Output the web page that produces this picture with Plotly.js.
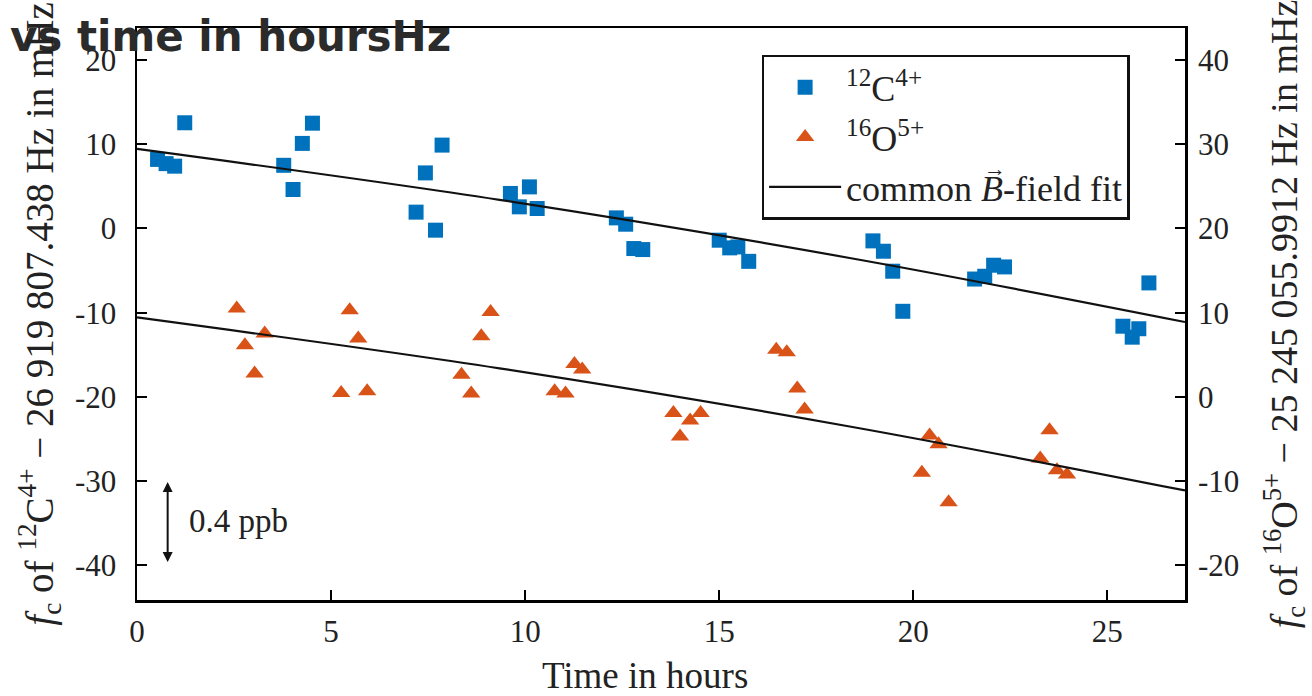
<!DOCTYPE html>
<html>
<head>
<meta charset="utf-8">
<script src="https://cdn.plot.ly/plotly-3.0.1.min.js"></script>
<style>html,body{margin:0;padding:0;background:#fff;}#chart{width:1312px;height:696px;}</style>
</head>
<body>
<div id="chart"></div>
<script>
// 12C4+ measurements (left axis, mHz)
var timeC = [0.53, 0.75, 0.97, 1.23, 3.78, 4.02, 4.26, 4.52, 7.19, 7.43, 7.69, 7.86,
             9.62, 9.85, 10.11, 10.31, 12.35, 12.59, 12.80, 13.03, 15.00, 15.27, 15.48, 15.76,
             18.96, 19.23, 19.47, 19.73, 21.58, 21.84, 22.07, 22.35, 25.40, 25.64, 25.81, 26.07];
var valueC = [8.2, 7.7, 7.4, 12.55, 7.5, 4.63, 10.1, 12.5, 1.94, 6.6, -0.2, 9.9,
              4.16, 2.57, 4.94, 2.37, 1.26, 0.51, -2.38, -2.5, -1.39, -2.3, -2.19, -3.9,
              -1.47, -2.7, -5.07, -9.83, -6.0, -5.67, -4.36, -4.56, -11.6, -12.9, -11.9, -6.46];
// 16O5+ measurements (right axis, mHz)
var timeO = [2.57, 2.78, 3.03, 3.29, 5.26, 5.48, 5.70, 5.93, 8.36, 8.61, 8.87, 9.11,
             10.76, 11.04, 11.27, 11.47, 13.82, 13.99, 14.25, 14.52, 16.47, 16.74, 17.01, 17.20,
             20.22, 20.42, 20.65, 20.91, 23.27, 23.51, 23.70, 23.96];
var valueO = [10.5, 6.13, 2.8, 7.53, 0.47, 10.3, 6.93, 0.67, 2.65, 0.4, 7.2, 10.1,
              0.67, 0.4, 3.9, 3.25, -1.9, -4.7, -2.8, -1.9, 5.6, 5.3, 1.0, -1.5,
              -9.0, -4.56, -5.6, -12.5, -7.3, -3.96, -8.7, -9.2];
// common B-field fit (same curve in each axis' units)
var fitTime = [0, 9.34, 18.36, 27];
var fitValue = [9.45, 3.4, -3.5, -11.1];
// ticks
var xTicks = [0, 5, 10, 15, 20, 25];
var xTickText = ['0', '5', '10', '15', '20', '25'];
var yTicks = [-40, -30, -20, -10, 0, 10, 20];
var yTickText = ['-40', '-30', '-20', '-10', '0', '10', '20'];
var y2Ticks = [-20, -10, 0, 10, 20, 30, 40];
var y2TickText = ['-20', '-10', '0', '10', '20', '30', '40'];
// 0.4 ppb scale arrow
var ppbArrowTime = [0.79];
var ppbArrowRange = [-29.9, -39.6];

var serif = 'Liberation Serif';
var blue = '#0072BD', orange = '#D95319';

var traces = [
  {x: timeC, y: valueC, type: 'scatter', mode: 'markers', name: '<sup>12</sup>C<sup>4+</sup>',
   marker: {symbol: 'square', size: 15, color: blue}, yaxis: 'y'},
  {x: timeO, y: valueO, type: 'scatter', mode: 'markers', name: '<sup>16</sup>O<sup>5+</sup>',
   marker: {symbol: 'triangle-up', size: 16, color: orange}, yaxis: 'y2'},
  {x: fitTime, y: fitValue, type: 'scatter', mode: 'lines',
   name: 'common <i>B</i>-field fit',
   line: {color: '#111', width: 2.2, shape: 'spline'}, yaxis: 'y'},
  {x: fitTime, y: fitValue, type: 'scatter', mode: 'lines', showlegend: false,
   line: {color: '#111', width: 2.2, shape: 'spline'}, yaxis: 'y2'}
];

var yRange = [-44.1, 23.8];
var layout = {
  width: 1312, height: 696,
  paper_bgcolor: '#fff', plot_bgcolor: '#fff',
  margin: {l: 137, r: 127, t: 28, b: 96},
  showlegend: true,
  title: {text: 'vs time in hoursHz', font: {family: 'DejaVu Sans', size: 42, color: '#2b2b2b', weight: 'bold'},
          x: 0.0076, xanchor: 'left', xref: 'container', y: 0.969, yanchor: 'top', yref: 'container'},
  xaxis: {range: [0, 27], tickvals: xTicks, ticktext: xTickText, ticks: 'inside', ticklen: 10, tickwidth: 2,
          tickcolor: '#000', showline: true, linecolor: '#000', linewidth: 2.5, mirror: true, showgrid: false,
          zeroline: false, ticklabelstandoff: 2,
          tickfont: {family: serif, size: 31, color: '#222'}},
  yaxis: {range: yRange, tickvals: yTicks, ticktext: yTickText, ticks: 'inside', ticklen: 10, tickwidth: 2,
          tickcolor: '#000', showline: true, linecolor: '#000', linewidth: 2.5, mirror: true, showgrid: false,
          zeroline: false, ticklabelstandoff: 12,
          tickfont: {family: serif, size: 31, color: '#222'},
          title: {text: '<i>f</i><sub>c</sub> of <sup>12</sup>C<sup>4+</sup> \u2212 26 919 807.438 Hz in mHz',
                  font: {family: serif, size: 39, color: '#222'}, standoff: 10}},
  yaxis2: {range: [yRange[0] + 20, yRange[1] + 20], overlaying: 'y', side: 'right', tickvals: y2Ticks, ticktext: y2TickText,
           ticks: 'inside', ticklen: 10, tickwidth: 2, tickcolor: '#000', showline: false, showgrid: false,
           zeroline: false, ticklabelstandoff: 12,
           tickfont: {family: serif, size: 31, color: '#222'},
           title: {text: '<i>f</i><sub>c</sub> of <sup>16</sup>O<sup>5+</sup> \u2212 25 245 055.9912 Hz in mHz',
                   font: {family: serif, size: 38, color: '#222'}, standoff: 32}},
  legend: {x: 0.596, y: 0.953, xanchor: 'left', yanchor: 'top', bgcolor: '#fff', bordercolor: '#111', borderwidth: 2.5,
           font: {family: serif, size: 36, color: '#222'}, itemwidth: 72, tracegroupgap: 0},
  annotations: [
    {x: ppbArrowTime[0], y: ppbArrowRange[1], ax: ppbArrowTime[0], ay: ppbArrowRange[0], xref: 'x', yref: 'y',
     axref: 'x', ayref: 'y', text: '', showarrow: true, arrowhead: 2, arrowside: 'end+start', arrowsize: 1, arrowwidth: 2, arrowcolor: '#111'},
    {x: 1.3, y: (ppbArrowRange[0] + ppbArrowRange[1]) / 2, xref: 'x', yref: 'y', xanchor: 'left', yanchor: 'middle',
     text: '0.4 ppb', showarrow: false, font: {family: serif, size: 33, color: '#222'}},
    {x: 0.4847, y: -0.132, xref: 'paper', yref: 'paper', xanchor: 'center', yanchor: 'middle',
     text: 'Time in hours', showarrow: false, font: {family: serif, size: 37, color: '#222'}}
  ]
};

Plotly.newPlot('chart', traces, layout, {displayModeBar: false, staticPlot: true}).then(function (gd) {
  // vector arrow accent over the italic B in the fit legend entry
  var texts = gd.querySelectorAll('.legend .legendtext');
  for (var i = 0; i < texts.length; i++) {
    var t = texts[i];
    var s = t.textContent;
    var idx = s.indexOf('B');
    if (s.indexOf('field') < 0 || idx < 0) continue;
    try {
      var r = t.getExtentOfChar(idx);
      var a = document.createElementNS('http://www.w3.org/2000/svg', 'text');
      a.setAttribute('x', r.x + r.width / 2 + 3);
      a.setAttribute('y', r.y + 7);
      a.setAttribute('text-anchor', 'middle');
      a.setAttribute('style', 'font-family: Liberation Serif; font-size: 22px; fill: #222;');
      a.textContent = '\u2192';
      t.parentNode.appendChild(a);
    } catch (e) {}
  }
});
</script>
</body>
</html>
